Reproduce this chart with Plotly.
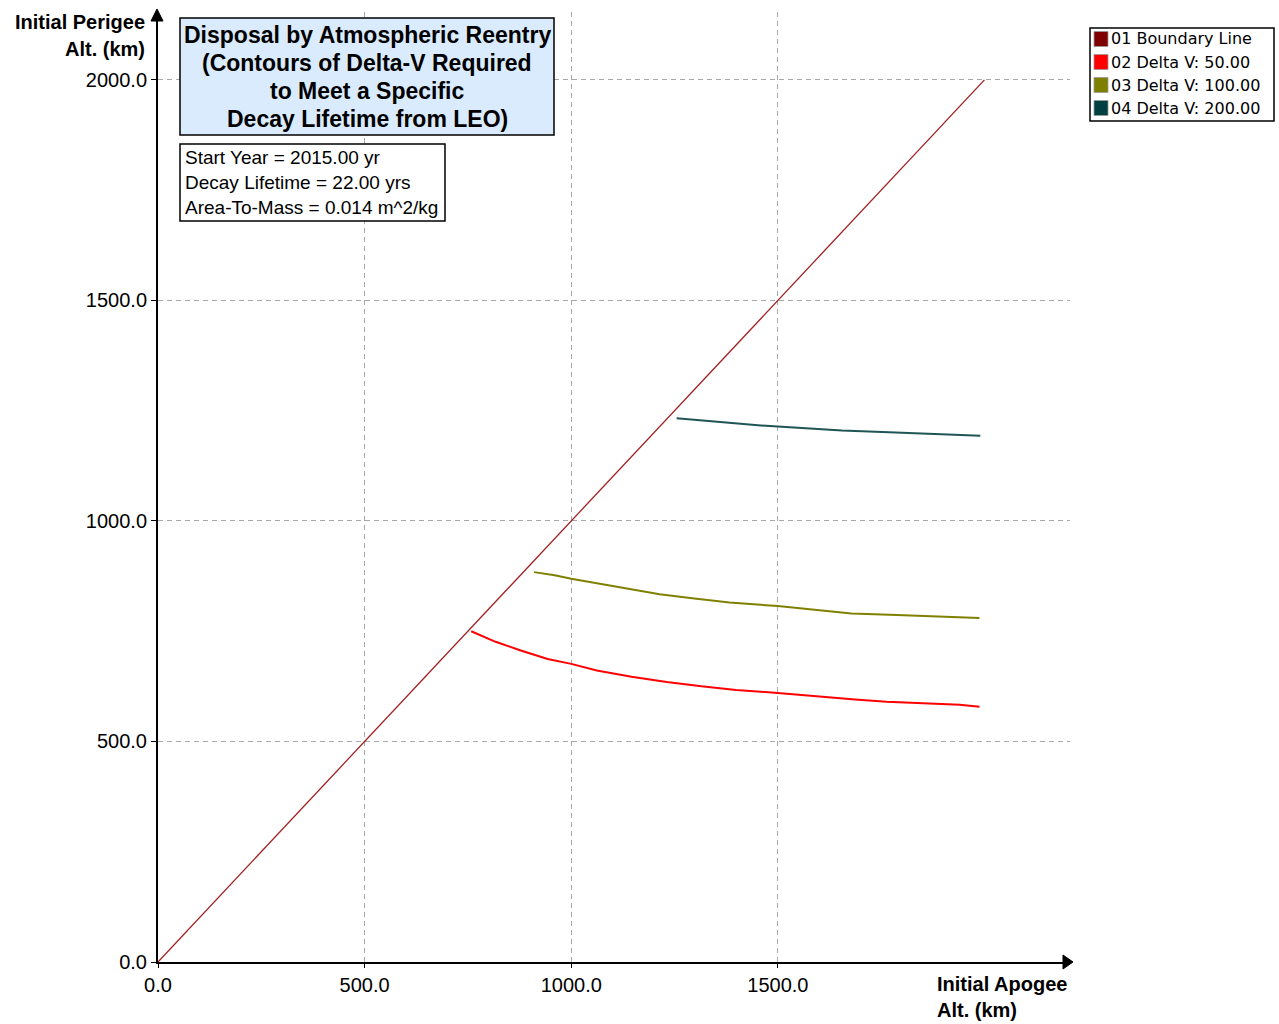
import plotly.graph_objects as go

# ---------------- data ----------------
boundary_apogee = [0, 2000]
boundary_perigee = [0, 2000]

dv50_apogee = [758, 817, 876, 943, 1000, 1062, 1146, 1231, 1315, 1399, 1500, 1594, 1687, 1763, 1847, 1940, 1988]
dv50_perigee = [750, 726, 707, 687, 676, 661, 647, 635, 625, 617, 610, 602, 595, 590, 587, 583, 579]

dv100_apogee = [910, 960, 1000, 1062, 1129, 1214, 1298, 1383, 1500, 1594, 1678, 1788, 1889, 1988]
dv100_perigee = [884, 877, 869, 859, 847, 834, 824, 815, 807, 798, 790, 787, 783, 780]

dv200_apogee = [1255, 1302, 1346, 1399, 1452, 1500, 1574, 1655, 1769, 1891, 1990]
dv200_perigee = [1233, 1229, 1225, 1221, 1217, 1214, 1210, 1205, 1201, 1197, 1193]

x_tickvals = [0, 500, 1000, 1500]
x_ticktext = ["0.0", "500.0", "1000.0", "1500.0"]
y_tickvals = [0, 500, 1000, 1500, 2000]
y_ticktext = ["0.0", "500.0", "1000.0", "1500.0", "2000.0"]

legend_names = ["01 Boundary Line", "02 Delta V: 50.00", "03 Delta V: 100.00", "04 Delta V: 200.00"]
legend_colors = ["#7f0000", "#ff0000", "#808000", "#004040"]

title_lines = ["Disposal by Atmospheric Reentry", "(Contours of Delta-V Required",
               "to Meet a Specific", "Decay Lifetime from LEO)"]
info_lines = ["Start Year = 2015.00 yr", "Decay Lifetime = 22.00 yrs", "Area-To-Mass = 0.014 m^2/kg"]

# ---------------- layout geometry (pixels) ----------------
W, H = 1279, 1024
L, R, T, B = 158, 1070, 12, 962


def px(xp):
    return (xp - L) / (R - L)


def py(yp):
    return (B - yp) / (B - T)


FONT = "Liberation Sans, Arial, sans-serif"

fig = go.Figure()
fig.add_trace(go.Scatter(x=boundary_apogee, y=boundary_perigee, mode="lines",
                         line=dict(color="#a02020", width=1.3), showlegend=False, hoverinfo="skip"))
fig.add_trace(go.Scatter(x=dv50_apogee, y=dv50_perigee, mode="lines",
                         line=dict(color=legend_colors[1], width=2, shape="linear"), showlegend=False))
fig.add_trace(go.Scatter(x=dv100_apogee, y=dv100_perigee, mode="lines",
                         line=dict(color=legend_colors[2], width=2), showlegend=False))
fig.add_trace(go.Scatter(x=dv200_apogee, y=dv200_perigee, mode="lines",
                         line=dict(color="#1f5555", width=2), showlegend=False))

shapes = []
annotations = []

# axis arrowheads
shapes.append(dict(type="path", xref="paper", yref="paper",
                   path=f"M {px(1063)} {py(955)} L {px(1073)} {py(962)} L {px(1063)} {py(969)} Z",
                   fillcolor="black", line=dict(color="black", width=1)))
shapes.append(dict(type="path", xref="paper", yref="paper",
                   path=f"M {px(151)} {py(21)} L {px(157)} {py(9)} L {px(163)} {py(21)} Z",
                   fillcolor="black", line=dict(color="black", width=1)))

# axis titles
annotations.append(dict(xref="paper", yref="paper", x=px(147), y=py(22), xanchor="right", yanchor="middle",
                        text="<b>Initial Perigee</b>", showarrow=False, font=dict(family=FONT, size=20, color="black")))
annotations.append(dict(xref="paper", yref="paper", x=px(147), y=py(49), xanchor="right", yanchor="middle",
                        text="<b>Alt. (km)</b>", showarrow=False, font=dict(family=FONT, size=20, color="black")))
annotations.append(dict(xref="paper", yref="paper", x=px(935), y=py(984), xanchor="left", yanchor="middle",
                        text="<b>Initial Apogee</b>", showarrow=False, font=dict(family=FONT, size=20, color="black")))
annotations.append(dict(xref="paper", yref="paper", x=px(935), y=py(1010), xanchor="left", yanchor="middle",
                        text="<b>Alt. (km)</b>", showarrow=False, font=dict(family=FONT, size=20, color="black")))

# title box
shapes.append(dict(type="rect", xref="paper", yref="paper", x0=px(180), x1=px(554), y0=py(18), y1=py(135),
                   fillcolor="#d9ebfc", line=dict(color="black", width=1.5), layer="above"))
for i, t in enumerate(title_lines):
    annotations.append(dict(xref="paper", yref="paper", x=px(367), y=py(35 + 28 * i), xanchor="center",
                            yanchor="middle", text=f"<b>{t}</b>", showarrow=False,
                            font=dict(family=FONT, size=23, color="black")))

# info box
shapes.append(dict(type="rect", xref="paper", yref="paper", x0=px(180), x1=px(445), y0=py(144), y1=py(221),
                   fillcolor="white", line=dict(color="black", width=1.5), layer="above"))
for i, t in enumerate(info_lines):
    annotations.append(dict(xref="paper", yref="paper", x=px(183), y=py(158 + 24.7 * i), xanchor="left",
                            yanchor="middle", text=t, showarrow=False,
                            font=dict(family=FONT, size=19, color="black")))

# legend
shapes.append(dict(type="rect", xref="paper", yref="paper", x0=px(1090), x1=px(1274), y0=py(28), y1=py(121),
                   fillcolor="white", line=dict(color="black", width=1.5)))
for i, (name, col) in enumerate(zip(legend_names, legend_colors)):
    cy = 39 + 23 * i
    shapes.append(dict(type="rect", xref="paper", yref="paper", x0=px(1094), x1=px(1108),
                       y0=py(cy - 7.5), y1=py(cy + 7.5), fillcolor=col, line=dict(color="#999999", width=0.8)))
    annotations.append(dict(xref="paper", yref="paper", x=px(1109), y=py(cy), xanchor="left", yanchor="middle",
                            text=name, showarrow=False, font=dict(family="DejaVu Sans, Verdana, sans-serif",
                                                                  size=16, color="black")))

fig.update_layout(
    width=W, height=H,
    margin=dict(l=L, r=W - R, t=T, b=H - B, pad=0),
    paper_bgcolor="white", plot_bgcolor="white",
    showlegend=False,
    shapes=shapes, annotations=annotations,
    font=dict(family=FONT, size=20, color="black"),
)
fig.update_xaxes(range=[0, 2207], tickvals=x_tickvals, ticktext=x_ticktext,
                 showgrid=True, gridcolor="#a8a8a8", griddash="5px,4px", gridwidth=1,
                 showline=True, linecolor="black", linewidth=2, zeroline=False,
                 ticks="outside", ticklen=4, tickcolor="black", tickwidth=1,
                 tickfont=dict(family=FONT, size=20, color="black"))
fig.update_yaxes(range=[0, 2154], tickvals=y_tickvals, ticktext=y_ticktext,
                 showgrid=True, gridcolor="#a8a8a8", griddash="5px,4px", gridwidth=1,
                 showline=True, linecolor="black", linewidth=2, zeroline=False,
                 ticks="outside", ticklen=5, tickcolor="black", tickwidth=1,
                 tickfont=dict(family=FONT, size=20, color="black"))

fig.write_html("out.html", config={"displayModeBar": False},
               post_script="document.body.style.margin='0';document.body.style.overflow='hidden';")
